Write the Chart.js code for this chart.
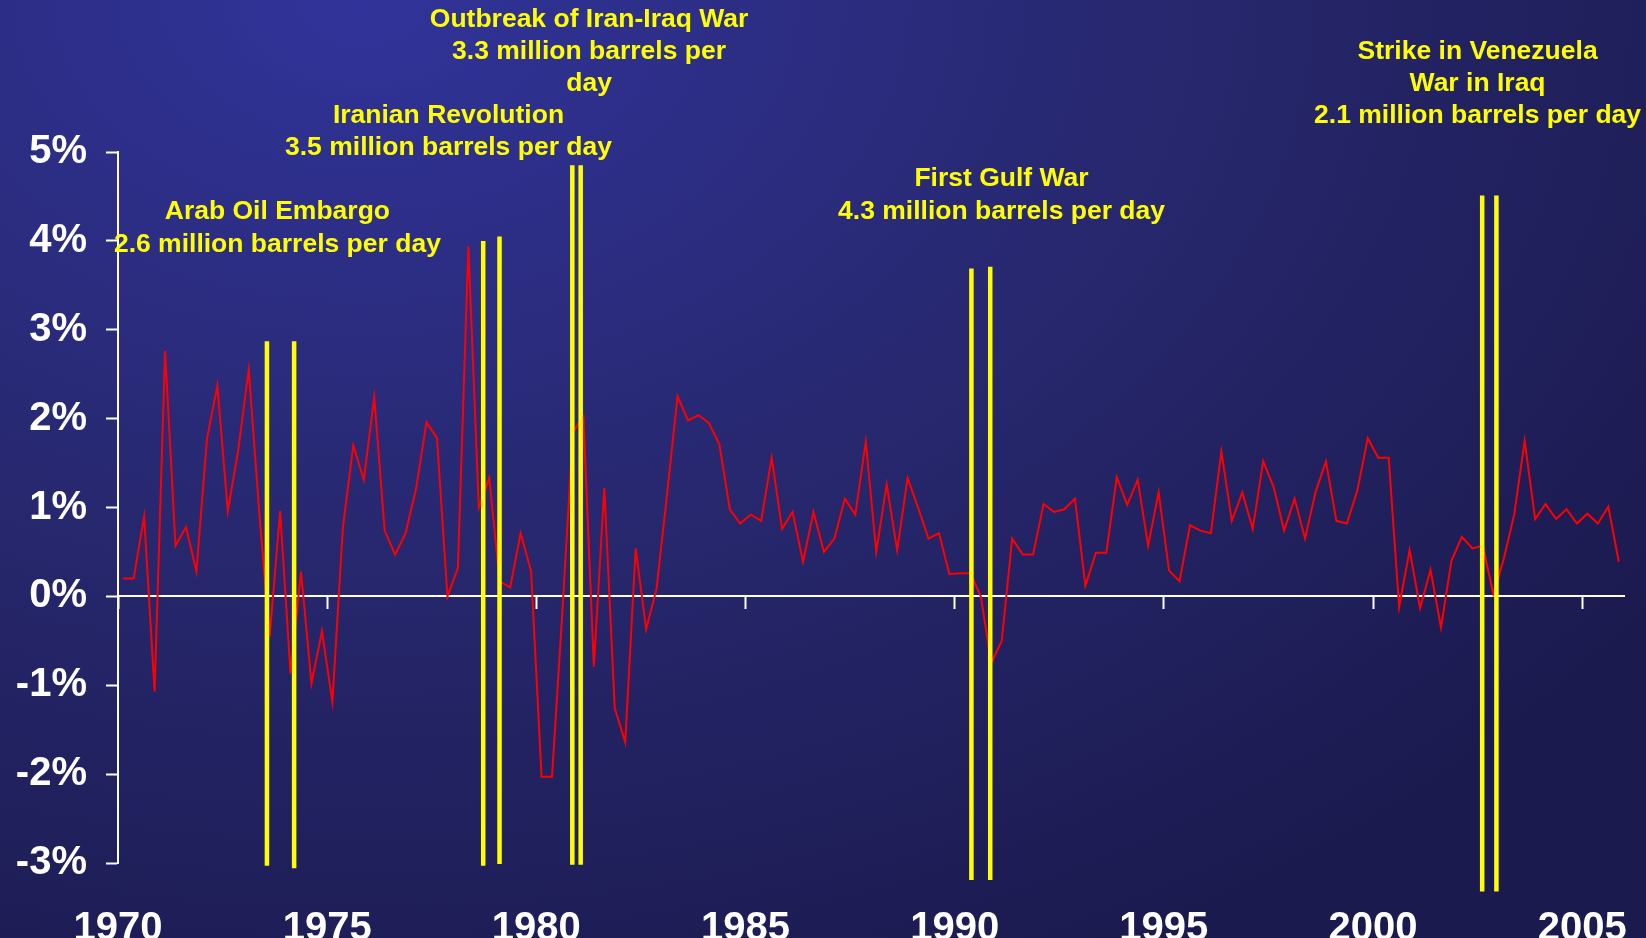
<!DOCTYPE html>
<html>
<head>
<meta charset="utf-8">
<script src="https://cdn.jsdelivr.net/npm/chart.js@4.4.1/dist/chart.umd.min.js"></script>
<style>
  html, body { margin: 0; padding: 0; overflow: hidden; }
  body {
    width: 1646px; height: 938px;
    background: radial-gradient(ellipse 95% 115% at 22% 0%, #31339a 0%, #27286f 50%, #1b1a4f 100%);
  }
  canvas { display: block; }
</style>
</head>
<body>
<canvas id="c" width="1646" height="938"></canvas>
<script>
// ---- data ----
const startYear = 1970;
const quarterlyGrowth = [
  0.20, 0.20, 0.90, -1.07, 2.76, 0.57, 0.78, 0.28,
  1.77, 2.37, 0.96, 1.65, 2.55, 0.95, -0.45, 0.96,
  -0.87, 0.28, -0.98, -0.39, -1.19, 0.77, 1.70, 1.31,
  2.24, 0.74, 0.47, 0.71, 1.21, 1.96, 1.78, 0.00,
  0.32, 3.94, 1.00, 1.33, 0.17, 0.10, 0.71, 0.28,
  -2.03, -2.03, -0.15, 1.85, 2.02, -0.79, 1.22, -1.26,
  -1.64, 0.54, -0.37, 0.09, 1.15, 2.25, 1.98, 2.04,
  1.95, 1.71, 0.98, 0.82, 0.92, 0.85, 1.56, 0.76,
  0.95, 0.39, 0.95, 0.50, 0.65, 1.10, 0.92, 1.74,
  0.50, 1.26, 0.52, 1.33, 1.00, 0.65, 0.71, 0.25,
  0.26, 0.26, 0.00, -0.75, -0.50, 0.65, 0.47, 0.47,
  1.04, 0.95, 0.98, 1.10, 0.12, 0.49, 0.49, 1.34,
  1.03, 1.31, 0.57, 1.17, 0.29, 0.17, 0.80, 0.74,
  0.71, 1.63, 0.85, 1.17, 0.76, 1.52, 1.23, 0.74,
  1.10, 0.65, 1.17, 1.52, 0.85, 0.82, 1.19, 1.78,
  1.56, 1.56, -0.12, 0.52, -0.13, 0.30, -0.35, 0.40,
  0.67, 0.54, 0.57, 0.03, 0.42, 0.92, 1.75, 0.87,
  1.04, 0.87, 0.98, 0.82, 0.93, 0.82, 1.01, 0.39
];
const yearTicks = [1970, 1975, 1980, 1985, 1990, 1995, 2000, 2005];
const percentTicks = [-3, -2, -1, 0, 1, 2, 3, 4, 5];

const eventLineYears   = [1973.56, 1974.21, 1978.73, 1979.12, 1980.86, 1981.06, 1990.40, 1990.85, 2002.61, 2002.95];
const eventLineTops    = [2.87, 2.87, 4.00, 4.05, 4.85, 4.85, 3.69, 3.71, 4.51, 4.51];
const eventLineBottoms = [-3.03, -3.06, -3.03, -3.01, -3.02, -3.02, -3.19, -3.19, -3.32, -3.32];

const eventTexts = [
  ["Arab Oil Embargo", "2.6 million barrels per day"],
  ["Iranian Revolution", "3.5 million barrels per day"],
  ["Outbreak of Iran-Iraq War", "3.3 million barrels per", "day"],
  ["First Gulf War", "4.3 million barrels per day"],
  ["Strike in Venezuela", "War in Iraq", "2.1 million barrels per day"]
];
const eventTextYears  = [1973.81, 1977.90, 1981.26, 1991.12, 2002.50];
const eventTextLevels = [4.325, 5.409, 6.494, 4.696, 6.133];

// ---- build ----
const xMin = startYear;
const xMax = startYear + quarterlyGrowth.length / 4;
const growthPoints = quarterlyGrowth.map((v, i) => ({ x: startYear + (i + 0.5) / 4, y: v }));

const eventDatasets = eventLineYears.map((yr, i) => ({
  type: 'line',
  data: [{ x: yr, y: eventLineTops[i] }, { x: yr, y: eventLineBottoms[i] }],
  borderColor: '#ffff00',
  borderWidth: 4.5,
  pointRadius: 0,
  borderCapStyle: 'butt',
  clip: false,
  order: 0
}));

const FONT = "'Liberation Sans', Arial, sans-serif";

const textPlugin = {
  id: 'eventText',
  afterDraw(chart) {
    const ctx = chart.ctx;
    const xs = chart.scales.x, ys = chart.scales.y;
    ctx.save();
    ctx.fillStyle = '#ffff00';
    ctx.font = 'bold 26.5px ' + FONT;
    ctx.textAlign = 'center';
    ctx.textBaseline = 'middle';
    eventTexts.forEach((lines, i) => {
      const px = xs.getPixelForValue(eventTextYears[i]);
      const py = ys.getPixelForValue(eventTextLevels[i]);
      lines.forEach((t, j) => ctx.fillText(t, px, py + j * 32.4));
    });
    ctx.restore();
  }
};

function setYearTicks(scale) {
  scale.ticks = yearTicks.map(v => ({ value: v }));
}
function noSidePadding(scale) {
  scale.paddingLeft = 0; scale.paddingRight = 0;
}

new Chart(document.getElementById('c'), {
  type: 'line',
  data: {
    datasets: [
      ...eventDatasets,
      {
        data: growthPoints,
        borderColor: '#ff0000',
        borderWidth: 2,
        pointRadius: 0,
        tension: 0,
        order: 1
      }
    ]
  },
  options: {
    responsive: false,
    animation: false,
    devicePixelRatio: 1,
    layout: { padding: { top: 152, right: 22, left: 0, bottom: 0 } },
    plugins: { legend: { display: false }, tooltip: { enabled: false } },
    scales: {
      x: {
        type: 'linear',
        min: xMin, max: xMax,
        position: { y: 0 },
        afterBuildTicks: setYearTicks,
        afterFit: noSidePadding,
        ticks: { display: false },
        grid: { display: true, drawOnChartArea: false, drawTicks: true, tickLength: 12, tickWidth: 2, tickColor: '#ffffff', color: '#ffffff' },
        border: { display: true, color: '#ffffff', width: 2 }
      },
      xl: {
        type: 'linear',
        axis: 'x',
        min: xMin, max: xMax,
        position: 'bottom',
        afterBuildTicks: setYearTicks,
        afterFit(scale) { scale.height = 75; noSidePadding(scale); },
        ticks: {
          color: '#ffffff',
          font: { family: FONT, size: 40, weight: 'bold' },
          padding: 34,
          maxRotation: 0,
          autoSkip: false,
          callback: v => String(v)
        },
        grid: { display: false },
        border: { display: false }
      },
      y: {
        type: 'linear',
        min: -3, max: 5,
        afterBuildTicks(scale) { scale.ticks = percentTicks.map(v => ({ value: v })); },
        afterFit(scale) { scale.width = 118; },
        ticks: {
          color: '#ffffff',
          font: { family: FONT, size: 40, weight: 'bold' },
          padding: 19,
          callback: v => v + '%'
        },
        grid: { display: true, drawOnChartArea: false, drawTicks: true, tickLength: 12, tickWidth: 2, tickColor: '#ffffff', color: '#ffffff' },
        border: { display: true, color: '#ffffff', width: 2 }
      }
    }
  },
  plugins: [textPlugin]
});
</script>
</body>
</html>
